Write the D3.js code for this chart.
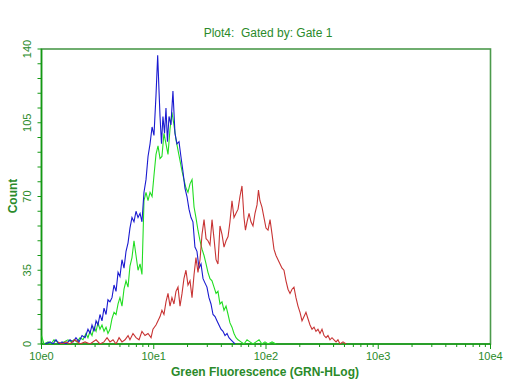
<!DOCTYPE html>
<html>
<head>
<meta charset="utf-8">
<script src="https://cdn.jsdelivr.net/npm/d3@7"></script>
<style>
  body { margin: 0; background: #fff; }
  text { font-family: "Liberation Sans", Arial, sans-serif; }
</style>
</head>
<body>
<div id="chart"></div>
<script>
// histogram data: x in decades (log10 of fluorescence), y = count
var blueDec = [0.031,0.076,0.102,0.129,0.156,0.183,0.218,0.254,0.281,0.307,0.334,0.361,0.388,0.414,0.432,0.450,0.468,0.486,0.503,0.521,0.539,0.557,0.575,0.592,0.610,0.628,0.646,0.664,0.682,0.699,0.717,0.735,0.753,0.771,0.788,0.806,0.824,0.842,0.860,0.878,0.895,0.913,0.931,0.949,0.967,0.985,1.002,1.020,1.035,1.047,1.056,1.069,1.082,1.096,1.109,1.122,1.136,1.153,1.171,1.189,1.207,1.225,1.242,1.260,1.278,1.296,1.314,1.332,1.349,1.367,1.385,1.403,1.421,1.439,1.456,1.474,1.492,1.510,1.528,1.546,1.563,1.581,1.599,1.617,1.635,1.653,1.670,1.688,1.706,1.724];
var blueCount = [0,1,0,2,0,1,0,2,1,3,1,4,3,7,5,9,6,11,9,14,11,17,14,21,20,22,28,25,34,32,40,36,44,48,55,60,58,63,60,62,58,72,78,89,95,103,99,118,137,120,108,95,108,100,112,96,108,104,120,100,95,96,89,82,74,70,64,60,58,46,44,36,38,31,29,27,22,19,14,13,11,9,7,6,4,5,3,2,1,0];

var greenDec = [0.000,0.022,0.058,0.085,0.111,0.138,0.165,0.200,0.236,0.263,0.290,0.316,0.343,0.370,0.396,0.414,0.432,0.450,0.468,0.486,0.503,0.521,0.539,0.557,0.575,0.592,0.610,0.628,0.646,0.664,0.682,0.699,0.717,0.735,0.753,0.771,0.788,0.806,0.824,0.842,0.860,0.878,0.895,0.913,0.931,0.949,0.967,0.985,1.002,1.020,1.038,1.056,1.073,1.091,1.109,1.127,1.145,1.162,1.180,1.198,1.216,1.234,1.252,1.269,1.287,1.305,1.323,1.341,1.359,1.376,1.394,1.412,1.430,1.448,1.466,1.483,1.501,1.519,1.537,1.555,1.572,1.590,1.608,1.626,1.644,1.662,1.679,1.697,1.715,1.733,1.751,1.777,1.804,1.831,1.857,1.884,1.911,1.938,1.964,1.991,2.018,2.054,2.089];
var greenCount = [4,0,1,0,2,1,0,1,2,1,2,1,3,2,5,3,6,4,8,6,10,7,9,6,8,5,7,12,15,14,19,22,18,26,30,27,37,41,49,42,35,38,33,68,72,68,72,70,80,90,94,88,89,100,95,90,102,110,104,97,92,87,82,78,74,72,76,78,65,60,54,49,45,42,38,34,31,30,27,24,25,19,20,16,18,14,10,8,5,3,2,1,0,2,1,0,1,2,0,1,0,1,0];

var redDec = [0.147,0.183,0.218,0.254,0.298,0.343,0.388,0.432,0.486,0.521,0.557,0.584,0.610,0.637,0.664,0.691,0.717,0.744,0.771,0.788,0.815,0.842,0.869,0.895,0.922,0.949,0.976,0.993,1.020,1.038,1.056,1.073,1.091,1.109,1.127,1.145,1.162,1.180,1.198,1.216,1.234,1.252,1.269,1.287,1.305,1.323,1.341,1.359,1.376,1.394,1.412,1.430,1.448,1.466,1.483,1.501,1.519,1.537,1.555,1.572,1.590,1.608,1.626,1.644,1.662,1.679,1.697,1.715,1.733,1.751,1.768,1.786,1.804,1.817,1.831,1.849,1.866,1.884,1.902,1.920,1.933,1.946,1.964,1.982,2.000,2.018,2.036,2.054,2.071,2.089,2.107,2.125,2.143,2.160,2.178,2.196,2.214,2.232,2.249,2.267,2.285,2.303,2.321,2.339,2.356,2.374,2.392,2.410,2.428,2.445,2.463,2.481,2.499,2.517,2.535,2.552,2.570,2.588,2.606,2.624,2.641,2.659,2.686,2.713];
var redCount = [1,0,1,0,2,0,1,0,2,0,1,3,1,2,0,3,1,2,4,2,5,3,2,6,4,5,3,7,9,11,13,16,14,20,24,18,22,19,25,27,18,24,31,35,28,30,22,33,41,34,40,52,59,50,49,47,59,50,40,38,56,52,46,49,51,58,68,60,62,64,70,75,60,54,58,62,58,56,62,66,73,68,65,60,55,54,59,52,45,42,40,38,36,35,30,26,24,26,27,22,18,15,11,13,15,12,9,7,8,6,7,5,7,4,3,4,2,3,2,1,2,0,1,0];

var decades = [0, 1, 2, 3, 4];
var yLabels = [0, 35, 70, 105, 140];
var yMax = 140, yMinorStep = 7;

var width = 512, height = 384;
var plot = {left: 41.5, right: 490.5, top: 49, bottom: 344};
var txtColor = "#2a8a2a", axisColor = "#139a13";

var svg = d3.select("#chart").append("svg")
    .attr("width", width)
    .attr("height", height);

var x = d3.scaleLog().domain([1, 1e4]).range([plot.left, plot.right]);
var y = d3.scaleLinear().domain([0, yMax]).range([plot.bottom, plot.top]);

svg.append("defs").append("clipPath").attr("id", "clip")
  .append("rect")
    .attr("x", plot.left).attr("y", plot.top - 2)
    .attr("width", plot.right - plot.left).attr("height", plot.bottom - plot.top + 2);

// frame
svg.append("rect")
    .attr("x", plot.left).attr("y", plot.top)
    .attr("width", plot.right - plot.left).attr("height", plot.bottom - plot.top)
    .attr("fill", "none").attr("stroke", "#4c9a4c").attr("stroke-width", 1.6);

// title
svg.append("text")
    .attr("x", 268).attr("y", 37)
    .attr("text-anchor", "middle")
    .attr("font-size", "12px")
    .attr("fill", txtColor)
    .style("white-space", "pre")
    .text("Plot4:  Gated by: Gate 1");

// x ticks
var xt = svg.append("g");
xt.selectAll("line.minor")
  .data(x.ticks())
  .enter().append("line")
    .attr("x1", function(d){ return x(d); })
    .attr("x2", function(d){ return x(d); })
    .attr("y1", plot.bottom)
    .attr("y2", function(d){ return decades.indexOf(Math.round(Math.log10(d))) >= 0 && Math.abs(Math.log10(d) - Math.round(Math.log10(d))) < 1e-9 ? plot.bottom + 5 : plot.bottom + 3; })
    .attr("stroke", axisColor).attr("stroke-width", 1);

xt.selectAll("text")
  .data(decades)
  .enter().append("text")
    .attr("x", function(d){ return x(Math.pow(10, d)); })
    .attr("y", 360)
    .attr("text-anchor", "middle")
    .attr("font-size", "11px")
    .attr("fill", txtColor)
    .text(function(d){ return "10e" + d; });

svg.append("text")
    .attr("x", 265).attr("y", 376)
    .attr("text-anchor", "middle")
    .attr("font-size", "12px")
    .attr("font-weight", "bold")
    .attr("fill", txtColor)
    .text("Green Fluorescence (GRN-HLog)");

// y ticks
var yt = svg.append("g");
yt.selectAll("line")
  .data(d3.range(0, yMax + 1, yMinorStep))
  .enter().append("line")
    .attr("x1", plot.left - 4).attr("x2", plot.left)
    .attr("y1", function(d){ return y(d); })
    .attr("y2", function(d){ return y(d); })
    .attr("stroke", axisColor).attr("stroke-width", 1);

yt.selectAll("text")
  .data(yLabels)
  .enter().append("text")
    .attr("transform", function(d){ return "translate(31," + y(d) + ") rotate(-90)"; })
    .attr("text-anchor", "middle")
    .attr("font-size", "11px")
    .attr("fill", txtColor)
    .text(function(d){ return d; });

svg.append("text")
    .attr("transform", "translate(17,196) rotate(-90)")
    .attr("text-anchor", "middle")
    .attr("font-size", "12px")
    .attr("font-weight", "bold")
    .attr("fill", txtColor)
    .text("Count");

// axis lines
svg.append("line")
    .attr("x1", plot.left).attr("x2", plot.left)
    .attr("y1", plot.top).attr("y2", plot.bottom)
    .attr("stroke", axisColor).attr("stroke-width", 1.5);
svg.append("line")
    .attr("x1", plot.left).attr("x2", plot.right)
    .attr("y1", plot.bottom).attr("y2", plot.bottom)
    .attr("stroke", axisColor).attr("stroke-width", 1.5);

// curves
var line = d3.line()
    .x(function(d){ return x(Math.pow(10, d[0])); })
    .y(function(d){ return y(d[1]); });

var curves = svg.append("g").attr("clip-path", "url(#clip)");
var series = [
  {dec: greenDec, cnt: greenCount, color: "#22dd22"},
  {dec: blueDec, cnt: blueCount, color: "#1a1ad0"},
  {dec: redDec, cnt: redCount, color: "#c83434"}
];
series.forEach(function(s){
  curves.append("path")
    .datum(d3.zip(s.dec, s.cnt))
    .attr("fill", "none")
    .attr("stroke", s.color)
    .attr("stroke-width", 1.1)
    .attr("d", line);
});
</script>
</body>
</html>
